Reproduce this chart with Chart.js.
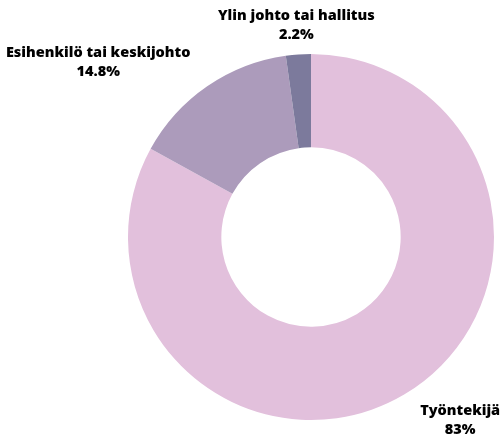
<!DOCTYPE html>
<html>
<head>
<meta charset="utf-8">
<script src="https://cdn.jsdelivr.net/npm/chart.js@4"></script>
<style>
  html, body { margin: 0; padding: 0; background: #ffffff; }
  #wrap { width: 502px; height: 441px; position: relative; }
</style>
</head>
<body>
<div id="wrap"><canvas id="role-chart"></canvas></div>
<script>
const labels = ["Työntekijä", "Esihenkilö tai keskijohto", "Ylin johto tai hallitus"];
const shares = [83, 14.8, 2.2];
const valueLabels = ["83%", "14.8%", "2.2%"];
const colors = ["#e2c0dc", "#ac9bbb", "#7c7a9c"];

// label nudges (to first baseline) from the arc's outer mid point, in px
const labelOffsets = [[56, 20], [-109, -29], [-2, -34]];

const outsideLabels = {
  id: "outsideLabels",
  afterDatasetsDraw(chart) {
    const ctx = chart.ctx;
    const arcs = chart.getDatasetMeta(0).data;
    ctx.save();
    ctx.font = "800 14.5px 'Open Sans'";
    ctx.fillStyle = "#000000";
    ctx.textAlign = "center";
    ctx.textBaseline = "alphabetic";
    arcs.forEach(function (arc, i) {
      const mid = (arc.startAngle + arc.endAngle) / 2;
      const x = arc.x + Math.cos(mid) * arc.outerRadius + labelOffsets[i][0];
      const y = arc.y + Math.sin(mid) * arc.outerRadius + labelOffsets[i][1];
      ctx.fillText(labels[i], x, y);
      ctx.fillText(valueLabels[i], x, y + 19);
    });
    ctx.restore();
  }
};

const ctx = document.getElementById("role-chart").getContext("2d");
new Chart(ctx, {
  type: "doughnut",
  data: {
    labels: labels,
    datasets: [{
      data: shares,
      backgroundColor: colors,
      borderWidth: 0
    }]
  },
  options: {
    responsive: true,
    maintainAspectRatio: false,
    animation: false,
    cutout: "49%",
    layout: { padding: { left: 128, right: 8, top: 54, bottom: 21 } },
    plugins: {
      legend: { display: false },
      tooltip: { enabled: false }
    }
  },
  plugins: [outsideLabels]
});
</script>
</body>
</html>
